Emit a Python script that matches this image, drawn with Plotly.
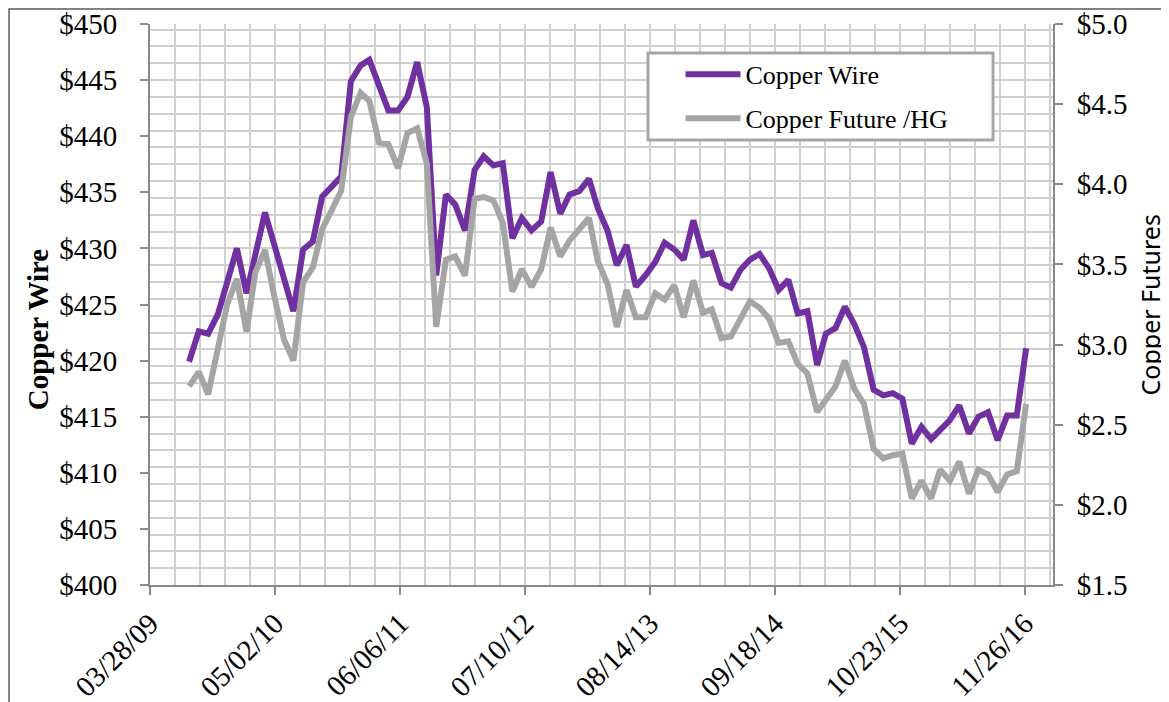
import pandas as pd
import plotly.graph_objects as go

# monthly observations, Jul 2009 .. Nov 2016
dates = pd.date_range("2009-07-31", periods=89, freq="ME")

copper_wire = [
    419.9, 422.6, 422.4, 424.1, 427.0, 430.0, 426.0, 429.6, 433.2, 430.3,
    427.4, 424.4, 429.9, 430.6, 434.6, 435.5, 436.4, 444.9, 446.3, 446.8,
    444.5, 442.3, 442.3, 443.5, 446.6, 442.6, 427.6, 434.8, 433.9, 431.6,
    437.0, 438.2, 437.4, 437.6, 430.9, 432.7, 431.6, 432.4, 436.8, 433.1,
    434.8, 435.1, 436.2, 433.6, 431.6, 428.5, 430.3, 426.6, 427.6, 428.8,
    430.5, 429.9, 429.0, 432.5, 429.4, 429.6, 426.9, 426.5, 428.1, 429.0,
    429.5, 428.2, 426.3, 427.2, 424.2, 424.4, 419.6, 422.4, 422.9, 424.8,
    423.2, 421.2, 417.4, 416.9, 417.1, 416.6, 412.6, 414.1, 413.0, 413.8,
    414.7, 416.0, 413.5, 415.0, 415.4, 412.9, 415.1, 415.1, 421.1,
]

copper_future = [
    2.74, 2.83, 2.69, 2.98, 3.25, 3.41, 3.08, 3.45, 3.59, 3.30,
    3.03, 2.90, 3.39, 3.48, 3.72, 3.84, 3.96, 4.42, 4.57, 4.52,
    4.26, 4.25, 4.10, 4.32, 4.35, 4.13, 3.11, 3.53, 3.55, 3.43,
    3.91, 3.92, 3.90, 3.76, 3.33, 3.47, 3.36, 3.47, 3.73, 3.55,
    3.65, 3.72, 3.79, 3.52, 3.38, 3.11, 3.34, 3.17, 3.17, 3.32,
    3.28, 3.37, 3.17, 3.40, 3.20, 3.22, 3.04, 3.05, 3.16, 3.27,
    3.23, 3.16, 3.01, 3.02, 2.88, 2.82, 2.58, 2.65, 2.74, 2.90,
    2.72, 2.63, 2.35, 2.29, 2.31, 2.32, 2.04, 2.15, 2.04, 2.22,
    2.15, 2.27, 2.07, 2.22, 2.19, 2.08, 2.19, 2.21, 2.63,
]

PURPLE = "#7030A0"
GREY = "#A5A5A5"
GRID = "#D0D0D0"
AXIS = "#898989"
SERIF = "Liberation Serif, Times New Roman, serif"
DAY_MS = 86400000

fig = go.Figure()
fig.add_trace(
    go.Scatter(
        x=dates, y=copper_wire, name="Copper Wire", mode="lines",
        line=dict(color=PURPLE, width=6), legendgroup="wire",
    )
)
fig.add_trace(
    go.Scatter(
        x=dates, y=copper_future, name="Copper Future /HG", mode="lines",
        line=dict(color=GREY, width=6), yaxis="y2", legendgroup="hg",
    )
)

# outer chart border + legend frame (paper coords relative to the plot area)
fig.add_shape(type="rect", xref="paper", yref="paper",
              x0=-0.1561, y0=-0.25, x1=1.17, y1=1.0267,
              line=dict(color="#595959", width=1.5), layer="below")
fig.add_shape(type="rect", xref="paper", yref="paper",
              x0=0.5515, y0=0.7932, x1=0.9336, y1=0.9483,
              line=dict(color="#A6A6A6", width=3), fillcolor="white", layer="above")

fig.add_annotation(text="<b>Copper Wire</b>", xref="paper", yref="paper",
                   x=-0.124, y=0.456, xanchor="center", yanchor="middle",
                   textangle=-90, showarrow=False,
                   font=dict(family=SERIF, size=29, color="black"))
fig.add_annotation(text="Copper Futures", xref="paper", yref="paper",
                   x=1.1074, y=0.5, xanchor="center", yanchor="middle",
                   textangle=-90, showarrow=False,
                   font=dict(family="Noto Sans, sans-serif", size=25, color="black"))

fig.update_layout(
    width=1169,
    height=702,
    margin=dict(l=142, r=124, t=16, b=125, autoexpand=False),
    paper_bgcolor="white",
    plot_bgcolor="white",
    font=dict(family=SERIF, size=29, color="black"),
    legend=dict(
        x=0.5875, y=0.952, xanchor="left", yanchor="top",
        bgcolor="rgba(0,0,0,0)", borderwidth=0,
        font=dict(family=SERIF, size=26, color="black"),
        itemwidth=55, tracegroupgap=7,
    ),
    xaxis=dict(
        type="date",
        range=["2009-03-28", "2017-02-24"],
        tick0="2009-03-28",
        dtick=400 * DAY_MS,
        tickformat="%m/%d/%y",
        tickangle=-45,
        ticks="outside", ticklen=8, tickwidth=2, tickcolor=AXIS,
        showline=True, linecolor=AXIS, linewidth=2,
        showgrid=True, gridcolor=GRID, gridwidth=1.5,
        minor=dict(tick0="2009-03-28", dtick=80 * DAY_MS, showgrid=True,
                   gridcolor=GRID, gridwidth=1.5, ticks=""),
        zeroline=False, automargin=False,
    ),
    yaxis=dict(
        range=[400, 450], tick0=400, dtick=5, tickprefix="$",
        ticks="outside", ticklen=8, tickwidth=2, tickcolor=AXIS,
        showline=True, linecolor=AXIS, linewidth=2,
        showgrid=False, zeroline=False, ticklabelstandoff=17,
        automargin=False,
    ),
    yaxis2=dict(
        overlaying="y", side="right", anchor="x",
        range=[1.5, 5.0], tick0=1.5, dtick=0.5, tickprefix="$", tickformat=".1f",
        ticks="outside", ticklen=8, tickwidth=2, tickcolor=AXIS,
        showline=True, linecolor=AXIS, linewidth=2,
        showgrid=False, zeroline=False, ticklabelstandoff=8,
        automargin=False,
        # horizontal grid every $1.5 of the wire scale (= 0.105 here)
        minor=dict(tick0=1.5, dtick=0.105, showgrid=True,
                   gridcolor=GRID, gridwidth=1.5, ticks=""),
    ),
)

fig.write_html("out.html")
